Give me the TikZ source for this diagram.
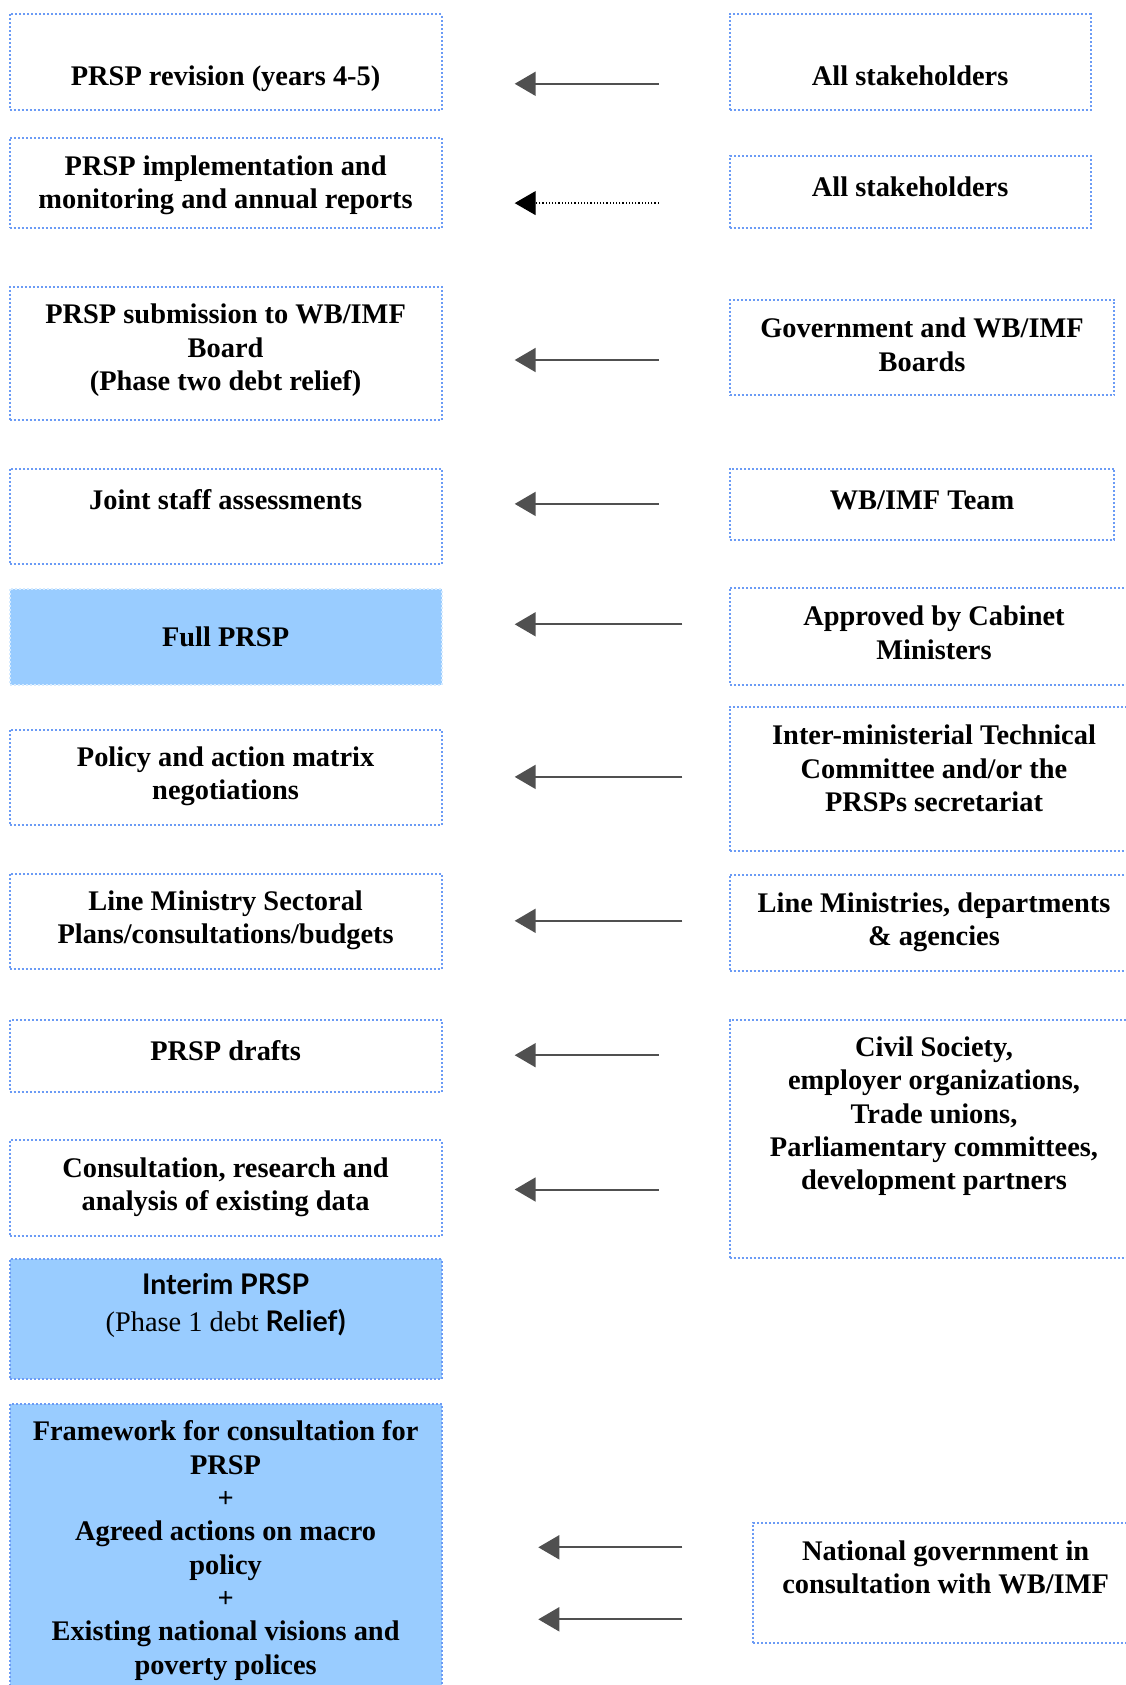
\documentclass[tikz,border=0pt]{standalone}
\usepackage{fontspec}
\setmainfont{Liberation Serif}
\newfontfamily\gillfont{Lato}
\usetikzlibrary{arrows.meta,positioning}
\definecolor{boxblue}{HTML}{6B9BF5}
\definecolor{stagefill}{HTML}{99CCFF}
\definecolor{arrowgrey}{HTML}{505050}

\begin{document}
\begin{tikzpicture}[x=0.5pt, y=-0.5pt, >={Triangle[length=10.5pt,width=12pt]},
  every node/.style={font=\fontsize{14.2}{16.65}\selectfont\bfseries},
  stage/.style={draw=boxblue, line width=1pt, dash pattern=on 1pt off 1pt, inner sep=0pt, minimum width=216pt},
  filled/.style={stage, fill=stagefill},
  actor/.style={draw=boxblue, line width=1pt, dash pattern=on 1pt off 1pt, inner sep=0pt},
  txt/.style={anchor=north, align=center, inner sep=0pt, yshift=-2pt, execute at begin node=\strut},
  flow/.style={->, draw=arrowgrey, line width=1pt},
  weakflow/.style={->, draw=black, line width=0.6pt, densely dotted}]

  \useasboundingbox (0,0) rectangle (1125,1685);

  % ===== Left column: PRSP stages (bottom-up) =====
  \node[stage, minimum height=47.8pt] (l1) at (225.6,61.8) {};
  \node[txt] (t1) at ([yshift=-22.5pt]l1.north) {PRSP revision (years 4-5)};

  \node[stage, minimum height=45.1pt] (l2) at (225.6,182.7) {};
  \node[txt] (t2) at ([yshift=-7.4pt]l2.north) {PRSP implementation and\\monitoring and annual reports};

  \node[stage, minimum height=66.6pt] (l3) at (225.6,353.5) {};
  \node[txt] (t3) at ([yshift=-6.9pt]l3.north) {PRSP submission to WB/IMF\\Board\\(Phase two debt relief)};

  \node[stage, minimum height=47.8pt] (l4) at (225.6,516.3) {};
  \node[txt] (t4) at ([yshift=-6.9pt]l4.north) {Joint staff assessments};

  \node[filled, draw=stagefill!40, minimum height=47.8pt] (l5) at (225.6,636.7) {};
  \node[txt] (t5) at ([yshift=-15.5pt]l5.north) {Full PRSP};

  \node[stage, minimum height=47.8pt] (l6) at (225.6,777.4) {};
  \node[txt] (t6) at ([yshift=-6.9pt]l6.north) {Policy and action matrix\\negotiations};

  \node[stage, minimum height=47.8pt] (l7) at (225.6,921.4) {};
  \node[txt] (t7) at ([yshift=-6.9pt]l7.north) {Line Ministry Sectoral\\Plans/consultations/budgets};

  \node[stage, minimum height=36pt] (l8) at (225.6,1055.7) {};
  \node[txt] (t8) at ([yshift=-6.9pt]l8.north) {PRSP drafts};

  \node[stage, minimum height=47.8pt] (l9) at (225.6,1187.9) {};
  \node[txt] (t9) at ([yshift=-6.9pt]l9.north) {Consultation, research and\\analysis of existing data};

  \node[filled, minimum height=59.6pt] (l10) at (225.6,1319.0) {};
  \node[txt] (t10) at ([yshift=-5.3pt]l10.north) {{\gillfont Interim PRSP}\\[2pt]{\mdseries (Phase 1 debt} {\gillfont Relief)}};

  \node[filled, minimum height=148pt] (l11) at (225.6,1551.7) {};
  \node[txt] (t11) at ([yshift=-6.9pt]l11.north) {Framework for consultation for\\PRSP\\+\\Agreed actions on macro\\policy\\+\\Existing national visions and\\poverty polices};

  % ===== Right column: who is involved =====
  \node[actor, minimum width=180.5pt, minimum height=47.8pt] (r1) at (910.1,61.8) {};
  \node[txt] (u1) at ([yshift=-22.5pt]r1.north) {All stakeholders};

  \node[actor, minimum width=180.5pt, minimum height=36pt] (r2) at (910.1,191.8) {};
  \node[txt] (u2) at ([yshift=-6.9pt]r2.north) {All stakeholders};

  \node[actor, minimum width=192.4pt, minimum height=47.8pt] (r3) at (922,347.6) {};
  \node[txt] (u3) at ([yshift=-7.4pt]r3.north) {Government and WB/IMF\\Boards};

  \node[actor, minimum width=192.4pt, minimum height=35.5pt] (r4) at (922,504) {};
  \node[txt] (u4) at ([yshift=-6.9pt]r4.north) {WB/IMF Team};

  \node[actor, minimum width=204.4pt, minimum height=48.4pt] (r5) at (934,636.2) {};
  \node[txt] (u5) at ([yshift=-7.4pt]r5.north) {Approved by Cabinet\\Ministers};

  \node[actor, minimum width=204.4pt, minimum height=72pt] (r6) at (934,779) {};
  \node[txt] (u6) at ([yshift=-7.4pt]r6.north) {Inter-ministerial Technical\\Committee and/or the\\PRSPs secretariat};

  \node[actor, minimum width=204.4pt, minimum height=48.4pt] (r7) at (934,923) {};
  \node[txt] (u7) at ([yshift=-7.4pt]r7.north) {Line Ministries, departments\\\& agencies};

  \node[actor, minimum width=204.4pt, minimum height=119.3pt] (r8) at (934,1139) {};
  \node[txt] (u8) at ([yshift=-6.9pt]r8.north) {Civil Society,\\employer organizations,\\Trade unions,\\Parliamentary committees,\\development partners};

  \node[actor, minimum width=192.4pt, minimum height=60.2pt] (r9) at (945.6,1582.8) {};
  \node[txt] (u9) at ([yshift=-7.4pt]r9.north) {National government in\\consultation with WB/IMF};

  % ===== Arrows (right to left) =====
  \foreach \n/\xa/\xb/\y in {1/658.7/514.7/83.8, 3/658.7/514.7/360.0, 4/658.7/514.7/503.9,
      5/682.3/514.7/624.3, 6/682.3/514.7/776.9, 7/682.3/514.7/920.8,
      8/658.7/514.7/1055.2, 9/658.7/514.7/1189.5,
      10/682.3/538.3/1547.3, 11/682.3/538.3/1619.3} {
    \coordinate (s\n) at (\xa,\y);
    \coordinate (e\n) at (\xb,\y);
    \draw[flow] (s\n) -- (e\n);
  }
  \coordinate (s2) at (658.7,203.1);
  \coordinate (e2) at (514.7,203.1);
  \draw[weakflow] (s2) -- (e2);

\end{tikzpicture}
\end{document}
